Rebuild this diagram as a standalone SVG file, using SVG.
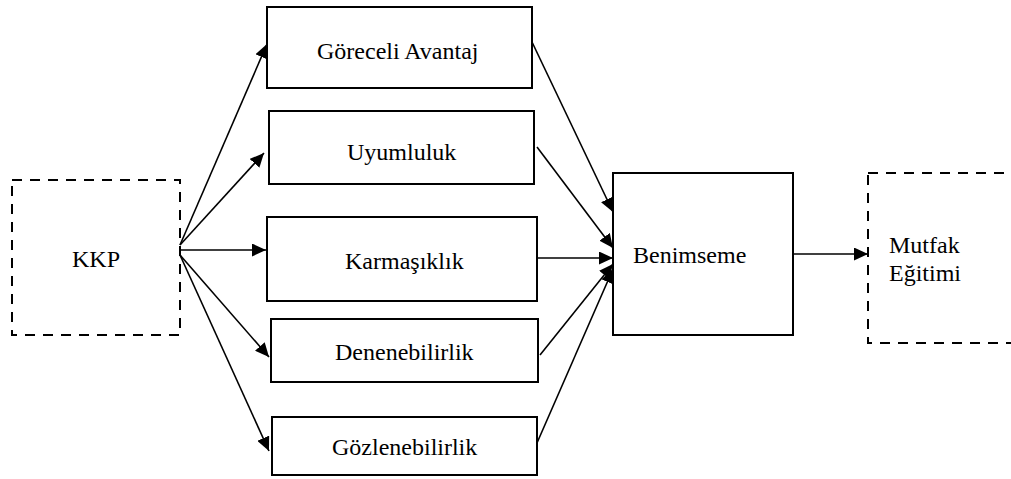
<svg xmlns="http://www.w3.org/2000/svg" width="1011" height="479" viewBox="0 0 1011 479">
  <style>
    .box { fill: #ffffff; stroke: #000000; stroke-width: 2; }
    .dash { fill: #ffffff; stroke: #000000; stroke-width: 2; stroke-dasharray: 10 8; }
    .lbl { font-family: "Liberation Serif", "Times New Roman", serif; font-size: 24px; fill: #000000; }
    .edge { fill: none; stroke: #000000; stroke-width: 1.6; marker-end: url(#arrow); }
  </style>
  <defs>
    <marker id="arrow" markerUnits="userSpaceOnUse" markerWidth="15" markerHeight="13" refX="14" refY="6.5" orient="auto">
      <path d="M0,0 L14,6.5 L0,13 z" fill="#000000"/>
    </marker>
  </defs>
  <rect width="1011" height="479" fill="#ffffff"/>

  <g id="kkp">
    <rect class="dash" x="12" y="180" width="168" height="155"/>
    <text class="lbl" x="72" y="267">KKP</text>
  </g>
  <g id="goreceli-avantaj">
    <rect class="box" x="267" y="7" width="265" height="81"/>
    <text class="lbl" x="317" y="59">Göreceli Avantaj</text>
  </g>
  <g id="uyumluluk">
    <rect class="box" x="269" y="111" width="265" height="73"/>
    <text class="lbl" x="347" y="160">Uyumluluk</text>
  </g>
  <g id="karmasiklik">
    <rect class="box" x="267" y="217" width="270" height="84"/>
    <text class="lbl" x="345" y="269">Karmaşıklık</text>
  </g>
  <g id="denenebilirlik">
    <rect class="box" x="271" y="319" width="267" height="63"/>
    <text class="lbl" x="335" y="360">Denenebilirlik</text>
  </g>
  <g id="gozlenebilirlik">
    <rect class="box" x="272" y="417" width="265" height="58"/>
    <text class="lbl" x="332" y="455">Gözlenebilirlik</text>
  </g>
  <g id="benimseme">
    <rect class="box" x="613" y="173" width="180" height="162"/>
    <text class="lbl" x="633" y="263">Benimseme</text>
  </g>
  <g id="mutfak-egitimi">
    <rect class="dash" x="868" y="173" width="160" height="170"/>
    <text class="lbl" x="889" y="253">Mutfak</text>
    <text class="lbl" x="889" y="281">Eğitimi</text>
  </g>

  <g id="connectors">
    <line class="edge" x1="180" y1="245" x2="267" y2="44"/>
    <line class="edge" x1="180" y1="245" x2="264" y2="153"/>
    <line class="edge" x1="180" y1="250" x2="266" y2="250"/>
    <line class="edge" x1="180" y1="255" x2="269" y2="357"/>
    <line class="edge" x1="180" y1="255" x2="269" y2="451"/>
    <line class="edge" x1="532" y1="42" x2="613" y2="212"/>
    <line class="edge" x1="537" y1="147" x2="613" y2="248"/>
    <line class="edge" x1="537" y1="258" x2="613" y2="258"/>
    <line class="edge" x1="540" y1="355" x2="613" y2="264"/>
    <line class="edge" x1="537" y1="443" x2="613" y2="269"/>
    <line class="edge" x1="793" y1="254" x2="868" y2="254"/>
  </g>
</svg>
